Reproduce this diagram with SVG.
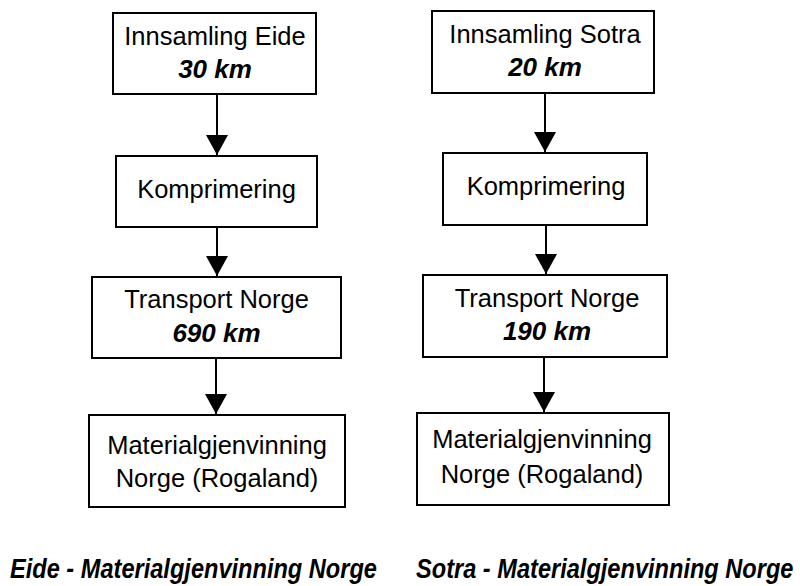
<svg xmlns="http://www.w3.org/2000/svg" width="800" height="586" viewBox="0 0 800 586">
<style>
.box{fill:#fff;stroke:#000;stroke-width:2}
.t{font-family:"Liberation Sans",Arial,sans-serif;font-size:25.5px;fill:#000;text-anchor:middle}
.b{font-weight:bold;font-style:italic;font-size:26px}
.cap{font-family:"Liberation Sans",Arial,sans-serif;font-size:23.6px;font-weight:bold;font-style:italic;fill:#000}
.c{stroke:#000;stroke-width:2;fill:none}
</style>
<defs>
<marker id="ah" markerWidth="10" markerHeight="11" refX="10" refY="5.5" orient="auto" markerUnits="strokeWidth" viewBox="0 0 10 11">
<path d="M0,0 L10,5.5 L0,11 Z" fill="#000"/>
</marker>
</defs>
<rect width="800" height="586" fill="#fff"/>
<g id="connectors">
<line class="c" x1="217" y1="94" x2="217" y2="155" marker-end="url(#ah)"/>
<line class="c" x1="217" y1="227" x2="217" y2="276" marker-end="url(#ah)"/>
<line class="c" x1="216" y1="358" x2="216" y2="414" marker-end="url(#ah)"/>
<line class="c" x1="545" y1="93" x2="545" y2="152" marker-end="url(#ah)"/>
<line class="c" x1="546" y1="225" x2="546" y2="274" marker-end="url(#ah)"/>
<line class="c" x1="544" y1="357" x2="544" y2="412" marker-end="url(#ah)"/>
</g>
<g id="eide-innsamling">
<rect class="box" x="113" y="13" width="203" height="81"/>
<text class="t" x="215" y="45">Innsamling Eide</text>
<text class="t b" x="215" y="78">30 km</text>
</g>
<g id="eide-komprimering">
<rect class="box" x="116" y="156" width="201" height="71"/>
<text class="t" x="216.5" y="198">Komprimering</text>
</g>
<g id="eide-transport">
<rect class="box" x="92" y="277" width="249" height="81"/>
<text class="t" x="216.5" y="308">Transport Norge</text>
<text class="t b" x="216.5" y="342">690 km</text>
</g>
<g id="eide-material">
<rect class="box" x="89" y="415" width="256" height="92"/>
<text class="t" x="217" y="454">Materialgjenvinning</text>
<text class="t" x="217" y="487">Norge (Rogaland)</text>
</g>
<g id="sotra-innsamling">
<rect class="box" x="432" y="11" width="222" height="82"/>
<text class="t" x="545" y="43">Innsamling Sotra</text>
<text class="t b" x="545" y="76">20 km</text>
</g>
<g id="sotra-komprimering">
<rect class="box" x="443" y="153" width="204" height="72"/>
<text class="t" x="546" y="195">Komprimering</text>
</g>
<g id="sotra-transport">
<rect class="box" x="423" y="275" width="244" height="82"/>
<text class="t" x="547" y="307">Transport Norge</text>
<text class="t b" x="547" y="340">190 km</text>
</g>
<g id="sotra-material">
<rect class="box" x="417" y="413" width="252" height="92"/>
<text class="t" x="542" y="448">Materialgjenvinning</text>
<text class="t" x="542" y="483">Norge (Rogaland)</text>
</g>
<g id="captions">
<text class="cap" transform="translate(10,578) scale(1,1.144)">Eide - Materialgjenvinning Norge</text>
<text class="cap" transform="translate(416,578) scale(1,1.144)">Sotra - Materialgjenvinning Norge</text>
</g>
</svg>
